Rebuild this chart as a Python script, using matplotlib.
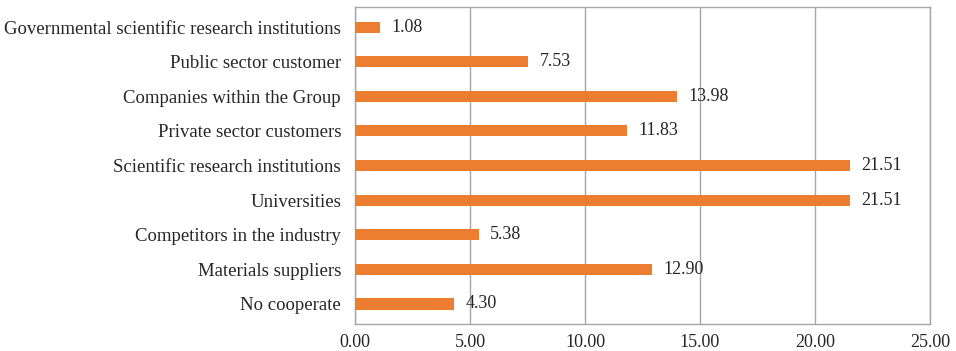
import matplotlib.pyplot as plt

categories = [
    "Governmental scientific research institutions",
    "Public sector customer",
    "Companies within the Group",
    "Private sector customers",
    "Scientific research institutions",
    "Universities",
    "Competitors in the industry",
    "Materials suppliers",
    "No cooperate",
]
values = [1.08, 7.53, 13.98, 11.83, 21.51, 21.51, 5.38, 12.90, 4.30]
x_ticks = [0, 5, 10, 15, 20, 25]

plt.rcParams['font.family'] = ['Liberation Serif', 'DejaVu Serif']

fig = plt.figure(figsize=(9.56, 3.51), dpi=100)
ax = fig.add_axes([0.3713, 0.0769, 0.6015, 0.903])

pos = list(range(len(categories)))[::-1]
ax.barh(pos, values, height=0.32, color='#ED7D31', zorder=3)
for p, v in zip(pos, values):
    ax.text(v + 0.5, p, f"{v:.2f}", va='center', ha='left',
            fontsize=13, color='#262626', zorder=4)

ax.set_xlim(0, 25)
ax.set_ylim(-0.578, len(categories) - 1 + 0.578)
ax.set_xticks(x_ticks)
ax.set_xticklabels([f"{t:.2f}" for t in x_ticks])
ax.set_yticks(pos)
ax.set_yticklabels(categories, fontsize=13.5)
ax.xaxis.grid(True, color='#a6a6a6', linewidth=1.0, zorder=0)
ax.tick_params(axis='x', length=0, labelsize=13, labelcolor='#262626', pad=7)
ax.tick_params(axis='y', length=0, labelcolor='#262626', pad=10)
for s in ax.spines.values():
    s.set_color('#a6a6a6')
    s.set_linewidth(1.0)

fig.savefig('out.png', dpi=100)
